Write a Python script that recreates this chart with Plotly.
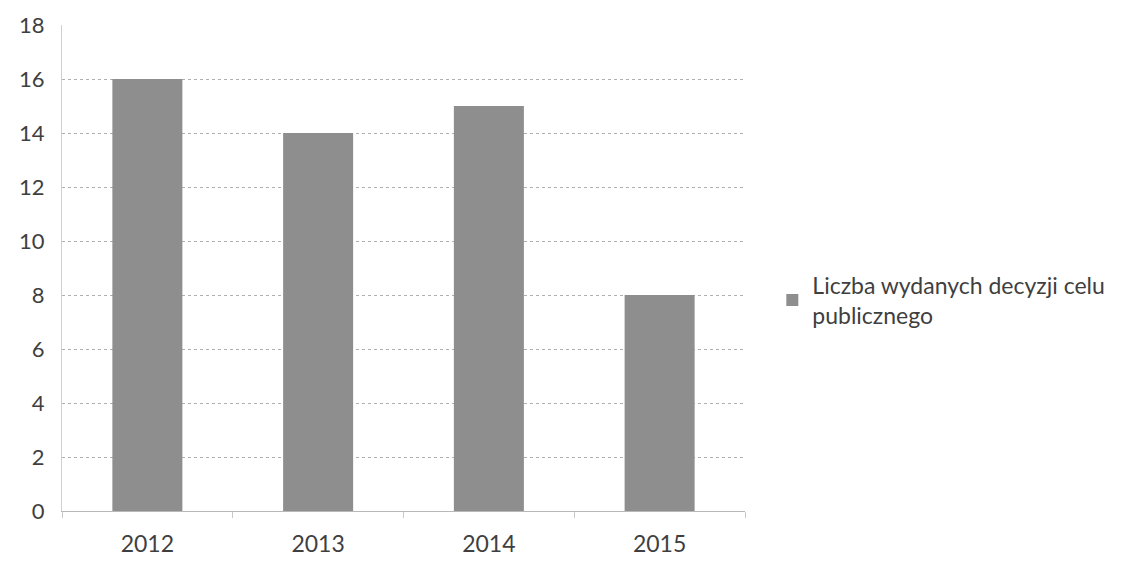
import plotly.graph_objects as go

years = ["2012", "2013", "2014", "2015"]
values = [16, 14, 15, 8]
series_name = "Liczba wydanych decyzji celu<br>publicznego"
y_ticks = [0, 2, 4, 6, 8, 10, 12, 14, 16, 18]

fig = go.Figure()
fig.add_trace(go.Bar(
    x=years, y=values, name=series_name,
    marker=dict(color="#8e8e8e", line=dict(width=0)),
    showlegend=True,
))

fig.update_layout(
    width=1127, height=563,
    paper_bgcolor="white", plot_bgcolor="white",
    margin=dict(l=54, r=390, t=17, b=60),
    bargap=0.59,
    font=dict(family="Lato, Open Sans, sans-serif", color="#3f3f3f"),
    showlegend=True,
    legend=dict(x=1.04, xanchor="left", y=0.434, yanchor="middle",
                font=dict(size=23, color="#3f3f3f"), itemsizing="constant",
                itemwidth=30, tracegroupgap=0,
                bgcolor="rgba(0,0,0,0)"),
    xaxis=dict(
        type="category", showgrid=False, showline=True, linecolor="#b8b8b8", linewidth=1,
        ticks="outside", tickson="boundaries", ticklen=6, tickcolor="#c8c8c8",
        tickfont=dict(size=23, color="#3f3f3f"), ticklabelstandoff=12,
        automargin=False,
    ),
    yaxis=dict(
        range=[0, 18], tickvals=y_ticks, showgrid=True, gridcolor="#b0b0b0",
        griddash="dot", gridwidth=1, showline=True, linecolor="#d0d0d0", linewidth=1,
        zeroline=False, tickfont=dict(size=22, color="#3f3f3f"), ticklabelstandoff=12,
        automargin=False,
    ),
)

fig.write_html("out.html")
